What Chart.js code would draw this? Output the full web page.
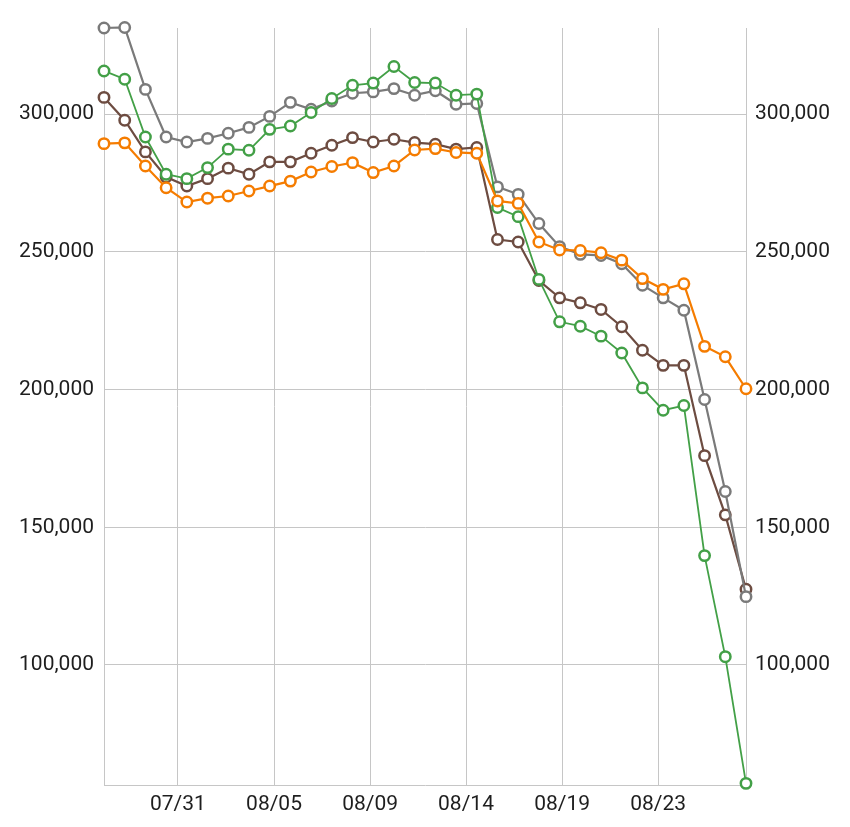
<!DOCTYPE html>
<html>
<head>
<meta charset="utf-8">
<script src="https://cdn.jsdelivr.net/npm/chart.js@4/dist/chart.umd.min.js"></script>
<style>
  html, body { margin: 0; padding: 0; background: #fff; }
  #wrap { width: 850px; height: 827px; }
</style>
</head>
<body>
<div id="wrap"><canvas id="chart" width="850" height="827"></canvas></div>
<script>
// dados diários 07/28 .. 08/28
const dates = ['07/28', '07/29', '07/30', '07/31', '08/01', '08/02', '08/03', '08/04',
  '08/05', '08/06', '08/07', '08/08', '08/09', '08/10', '08/11', '08/12', '08/13', '08/14',
  '08/15', '08/16', '08/17', '08/18', '08/19', '08/20', '08/21', '08/22', '08/23', '08/24',
  '08/25', '08/26', '08/27', '08/28'];

const seriesGray = [331300, 331500, 309000, 291700, 289900, 291200, 293100, 295200,
  299200, 304300, 301800, 304800, 307600, 308100, 309300, 306900, 308500, 303600,
  303900, 273600, 270900, 260300, 251900, 249100, 248700, 245700, 237900, 233300,
  228800, 196400, 163000, 124800];

const seriesGreen = [315700, 312700, 291700, 278200, 276600, 280600, 287300, 286900,
  294500, 295700, 300600, 305700, 310500, 311300, 317300, 311500, 311300, 306900,
  307300, 266100, 262800, 240000, 224600, 223000, 219400, 213300, 200600, 192500,
  194200, 139700, 103000, 57000];

const seriesBrown = [306100, 297800, 286300, 277200, 273900, 276600, 280400, 278200,
  282700, 282700, 285800, 288700, 291500, 289900, 290900, 289700, 289100, 287300,
  287900, 254500, 253600, 239600, 233300, 231500, 229100, 222800, 214300, 208800,
  208800, 176000, 154500, 127500];

const seriesOrange = [289300, 289600, 281200, 273300, 268100, 269500, 270300, 272100,
  273900, 275700, 279000, 281000, 282400, 278800, 281200, 287000, 287500, 286100,
  285800, 268500, 267600, 253600, 250700, 250500, 249700, 247000, 240300, 236400,
  238400, 215700, 211900, 200300];

// marcas do eixo x (posição em dias desde 07/28) e rótulos
const xTickPos = [3.57, 8.21, 12.85, 17.48, 22.12, 26.76];
const xTickLabels = ['07/31', '08/05', '08/09', '08/14', '08/19', '08/23'];
const yTicks = [100000, 150000, 200000, 250000, 300000];

const Y_MIN = 56400;
const Y_MAX = 331300;
const GRID = '#c6c6c6';
const TEXT = '#1e1e1e';
const FONT = { family: 'Roboto', size: 21 };

const toPoints = arr => arr.map((v, i) => ({ x: i, y: v }));

function makeDataset(name, data, color, width, order) {
  return {
    label: name,
    data: toPoints(data),
    borderColor: color,
    backgroundColor: '#ffffff',
    pointBackgroundColor: '#ffffff',
    pointBorderColor: color,
    pointBorderWidth: 2.5,
    pointRadius: 5.2,
    borderWidth: width,
    tension: 0,
    fill: false,
    clip: false,
    order: order
  };
}

const yAxis = (position, padding) => ({
  type: 'linear',
  position: position,
  min: Y_MIN,
  max: Y_MAX,
  afterBuildTicks(scale) { scale.ticks = yTicks.map(v => ({ value: v })); },
  afterFit(scale) { scale.width = 104; },
  grid: { display: position === 'left', color: GRID, drawTicks: false },
  border: { display: true, color: GRID },
  ticks: {
    color: TEXT,
    font: FONT,
    padding: padding,
    callback: v => v.toLocaleString('en-US')
  }
});

new Chart(document.getElementById('chart').getContext('2d'), {
  type: 'line',
  data: {
    datasets: [
      makeDataset('orange', seriesOrange, '#f57c00', 2.2, 0),
      makeDataset('green', seriesGreen, '#43a047', 1.8, 1),
      makeDataset('gray', seriesGray, '#7a7a7a', 2.2, 2),
      makeDataset('brown', seriesBrown, '#6d4c41', 2.2, 3)
    ]
  },
  options: {
    responsive: false,
    animation: false,
    devicePixelRatio: 1,
    layout: { padding: { top: 28, left: 0, right: 0, bottom: 0 } },
    plugins: {
      legend: { display: false },
      tooltip: { enabled: false }
    },
    scales: {
      x: {
        type: 'linear',
        min: 0,
        max: dates.length - 1,
        afterBuildTicks(scale) { scale.ticks = xTickPos.map(v => ({ value: v })); },
        afterFit(scale) { scale.height = 42; },
        grid: { color: GRID, drawTicks: false },
        border: { display: true, color: GRID },
        ticks: {
          color: TEXT,
          font: FONT,
          padding: 7,
          autoSkip: false,
          maxRotation: 0,
          callback: (v, i) => xTickLabels[i]
        }
      },
      y: yAxis('left', 10),
      y2: yAxis('right', 9)
    }
  }
});
</script>
</body>
</html>
